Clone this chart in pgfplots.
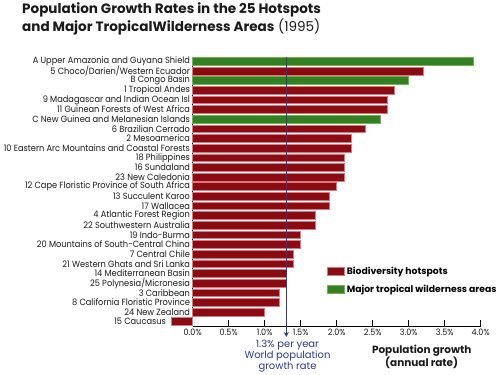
\documentclass[border=0pt]{standalone}
\usepackage{fontspec}
\setmainfont{Poppins}
\newfontfamily\labfont[FakeStretch=0.92]{Poppins}
\usepackage{pgfplots}
\usepackage{pgfplotstable}
\pgfplotsset{compat=1.18}
\usetikzlibrary{arrows.meta}
\definecolor{hot}{HTML}{8A0B12}
\definecolor{hotedge}{HTML}{D77882}
\definecolor{wild}{HTML}{347F22}
\definecolor{wildedge}{HTML}{74B355}
\definecolor{navy}{HTML}{2D3A8C}
\definecolor{txt}{HTML}{1A1A1A}

\pgfplotstableread{
y v
0 -0.3
1 1.0
2 1.2
3 1.2
4 1.3
5 1.3
6 1.4
7 1.4
8 1.5
9 1.5
10 1.7
11 1.7
12 1.9
13 1.9
14 2.0
15 2.1
16 2.1
17 2.1
18 2.2
19 2.2
20 2.4
22 2.7
23 2.7
24 2.8
26 3.2
}\hotspots

\pgfplotstableread{
y v
21 2.6
25 3.0
27 3.9
}\wilderness

\begin{document}
\begin{tikzpicture}
\useasboundingbox (-192.7bp,-49bp) rectangle (307.3bp,326bp);
\begin{axis}[
  at={(0,0)}, anchor=south west,
  x=72bp, y=9.64bp,
  xmin=0, xmax=4, ymin=-0.45, ymax=27.45,
  clip=false,
  axis x line*=bottom, axis y line*=left,
  axis line style={black, line width=0.6bp},
  xbar, bar width=0.8, bar shift=0pt,
  ytick={0,...,27},
  yticklabels={15 Caucasus\hspace*{24bp},
    24 New Zealand,
    8 California Floristic Province,
    3 Caribbean,
    25 Polynesia/Micronesia,
    14 Mediterranean Basin,
    21 Western Ghats and Sri Lanka,
    7 Central Chile,
    20 Mountains of South-Central China,
    19 Indo-Burma,
    22 Southwestern Australia,
    4 Atlantic Forest Region,
    17 Wallacea,
    13 Succulent Karoo,
    12 Cape Floristic Province of South Africa,
    23 New Caledonia,
    16 Sundaland,
    18 Philippines,
    10 Eastern Arc Mountains and Coastal Forests,
    2 Mesoamerica,
    6 Brazilian Cerrado,
    C New Guinea and Melanesian Islands,
    11 Guinean Forests of West Africa,
    9 Madagascar and Indian Ocean Isl,
    1 Tropical Andes,
    B Congo Basin,
    5 Choco/Darien/Western Ecuador,
    A Upper Amazonia and Guyana Shield},
  ytick style={draw=none},
  yticklabel style={font=\labfont\fontsize{9}{9.5}\selectfont, text=txt, inner sep=0pt, xshift=-2.5bp},
  xtick={0,0.5,1,2.5,3,3.5,4},
  xticklabels={0.0\%,0.5\%,1.0\%,2.5\%,3.0\%,3.5\%,4.0\%},
  extra x ticks={1.5,2},
  extra x tick labels={1.5\%,2.0\%},
  extra x tick style={major tick style={gray, line width=1.4bp}},
  tick align=inside,
  major tick length=6bp,
  xtick style={black, line width=0.6bp},
  xticklabel style={font=\labfont\fontsize{8.8}{10}\selectfont, text=txt, inner sep=0pt, yshift=-3bp},
  legend style={at={(axis cs:1.865,5.9)}, anchor=north west, draw=none, fill=none,
    inner sep=0pt, row sep=5bp, font=\fontsize{9.3}{11}\selectfont\bfseries,
    /tikz/every even column/.append style={column sep=5bp}},
  legend cell align=left,
]
\addplot[fill=hot, draw=hotedge, line width=0.7bp,
  legend image code/.code={\draw[fill=hot, draw=hotedge, line width=0.6bp] (0bp,-4bp) rectangle (17bp,4bp);}]
  table[x=v, y=y] {\hotspots};
\addlegendentry{Biodiversity hotspots}
\addplot[fill=wild, draw=wildedge, line width=0.7bp,
  legend image code/.code={\draw[fill=wild, draw=wildedge, line width=0.6bp] (0bp,-4bp) rectangle (17bp,4bp);}]
  table[x=v, y=y] {\wilderness};
\addlegendentry{Major tropical wilderness areas}
\draw[navy, line width=0.8bp, -{Stealth[length=5bp,width=5bp]}] (axis cs:1.3,27.45) -- (axis cs:1.3,-1.59);
\end{axis}
\node[anchor=base west, font=\fontsize{13.6}{18}\selectfont\bfseries, text=txt, inner sep=0pt] at (-170.7bp,312bp) {Population Growth Rates in the 25 Hotspots};
\node[anchor=base west, font=\fontsize{13.6}{18}\selectfont, text=txt, inner sep=0pt] at (-170.7bp,294bp) {\textbf{and Major TropicalWilderness Areas} (1995)};
\node[anchor=base, font=\fontsize{10.5}{12}\selectfont\bfseries, text=txt, inner sep=0pt] at (229bp,-27.7bp) {Population growth};
\node[anchor=base, font=\fontsize{10.5}{12}\selectfont\bfseries, text=txt, inner sep=0pt] at (229bp,-40bp) {(annual rate)};
\node[anchor=base, font=\fontsize{10}{11}\selectfont, text=navy, inner sep=0pt] at (94.8bp,-21bp) {1.3\% per year};
\node[anchor=base, font=\fontsize{10}{11}\selectfont, text=navy, inner sep=0pt] at (94.8bp,-32bp) {World population};
\node[anchor=base, font=\fontsize{10}{11}\selectfont, text=navy, inner sep=0pt] at (94.8bp,-43bp) {growth rate};
\end{tikzpicture}
\end{document}
